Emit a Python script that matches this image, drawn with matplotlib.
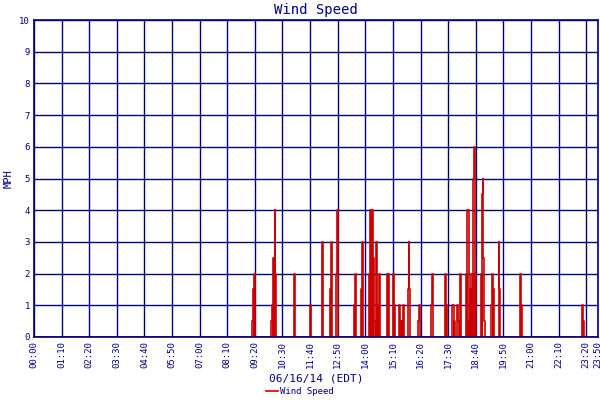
import matplotlib
matplotlib.use("Agg")
import matplotlib.pyplot as plt
import numpy as np

# spike times (minutes after midnight) and wind speed (MPH)
times = [553, 555, 558, 601, 603, 606, 611, 612, 659, 700, 729, 730, 750, 753,
         766, 768, 811, 814, 829, 832, 849, 852, 857, 860, 862, 867, 870, 875,
         895, 898, 910, 913, 925, 928, 933, 936, 948, 950, 951, 974, 976, 1007,
         1009, 1042, 1045, 1060, 1062, 1065, 1073, 1075, 1080, 1095, 1098, 1100,
         1103, 1105, 1108, 1110, 1113, 1115, 1118, 1133, 1136, 1138, 1139, 1141,
         1159, 1161, 1164, 1179, 1180, 1232, 1235, 1389, 1392]
speeds = [0.5, 1.5, 2, 0.5, 1, 2.5, 4, 2, 2, 1, 1.5, 3, 1.5, 3,
          2, 4, 1, 2, 1.5, 3, 2, 4, 4, 2.5, 0.5, 3, 1, 2,
          2, 2, 2, 1, 1, 0.5, 0.5, 1, 1.5, 3, 1.5, 0.5, 1, 1,
          2, 2, 1, 1, 1, 0.5, 1, 0.5, 2, 2, 4, 4,
          0.5, 1.5, 2, 2, 5, 6, 2, 2, 4.5, 5, 2.5, 0.5,
          1, 2, 1.5, 3, 1.5, 2, 1, 1, 0.5]
tick_labels = ["00:00", "01:10", "02:20", "03:30", "04:40", "05:50", "07:00",
               "08:10", "09:20", "10:30", "11:40", "12:50", "14:00", "15:10",
               "16:20", "17:30", "18:40", "19:50", "21:00", "22:10", "23:20", "23:50"]

navy = "#000080"
red = "#cc0000"
mono = "DejaVu Sans Mono"

# build a step line that drops back to zero between readings
xs, ys = [0], [0]
for i, (t, v) in enumerate(zip(times, speeds)):
    xs.append(t); ys.append(v)
    nxt = times[i + 1] if i + 1 < len(times) else 1430
    if nxt > t + 2:
        xs.append(t + 2); ys.append(0)
xs.append(1430); ys.append(0)

fig = plt.figure(figsize=(6, 4), dpi=100)
ax = fig.add_axes([34 / 600, 63 / 400, 564 / 600, 317 / 400])
ax.plot(xs, ys, drawstyle="steps-post", color=red, lw=1.2, label="Wind Speed")

tick_pos = [int(s[:2]) * 60 + int(s[3:]) for s in tick_labels]
ax.set_xticks(tick_pos)
ax.set_xticklabels(tick_labels, rotation=90, fontsize=6.5, family=mono, color=navy)
ax.set_yticks(range(11))
ax.set_yticklabels([str(i) for i in range(11)], fontsize=6.5, family=mono, color=navy)
ax.set_xlim(0, 1430)
ax.set_ylim(0, 10)
ax.grid(True, color=navy, lw=1)
ax.set_axisbelow(True)
ax.tick_params(length=0, pad=3)
for s in ax.spines.values():
    s.set_color(navy)
    s.set_linewidth(1.2)

ax.set_title("Wind Speed", fontsize=10, family=mono, color=navy, pad=4)
ax.set_ylabel("MPH", fontsize=7.5, family=mono, color=navy)
ax.set_xlabel("06/16/14 (EDT)", fontsize=8, family=mono, color=navy, labelpad=4)
leg = fig.legend(loc="lower center", bbox_to_anchor=(0.5, -0.01), frameon=False,
                 prop={"family": mono, "size": 6.5}, handlelength=1.3, handletextpad=0.3)
for txt in leg.get_texts():
    txt.set_color(navy)

fig.savefig("out.png", dpi=100)
